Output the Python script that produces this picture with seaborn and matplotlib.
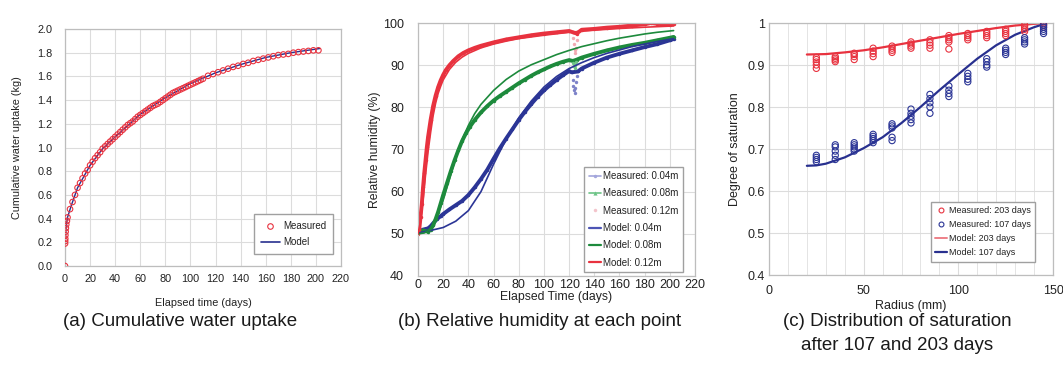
import matplotlib
matplotlib.use("Agg")
import matplotlib.pyplot as plt
from matplotlib.lines import Line2D
import seaborn as sns

# ---------------- (a) cumulative water uptake ----------------
uptake_days = [0, 0.05, 0.1, 0.2, 0.3, 0.5, 0.7, 1.0, 1.5,
               2, 4, 6, 8, 10, 12, 14, 16, 18, 20, 22, 24, 26, 28, 30,
               32, 34, 36, 38, 40, 42, 44, 46, 48, 50, 52, 54, 56, 58, 60,
               62, 64, 66, 68, 70, 72, 74, 76, 78, 80, 82, 84, 86, 88, 90,
               92, 94, 96, 98, 100, 102, 104, 106, 108, 110,
               114, 118, 122, 126, 130, 134, 138, 142, 146, 150, 154, 158,
               162, 166, 170, 174, 178, 182, 186, 190, 194, 198, 202]
uptake_kg = [0.00, 0.19, 0.21, 0.23, 0.26, 0.29, 0.32, 0.35, 0.38,
             0.41, 0.48, 0.54, 0.60, 0.66, 0.70, 0.74, 0.78, 0.81, 0.85, 0.88, 0.91, 0.935, 0.96, 0.99,
             1.01, 1.03, 1.05, 1.07, 1.09, 1.11, 1.13, 1.15, 1.17, 1.19, 1.205, 1.22, 1.24, 1.26, 1.275,
             1.29, 1.305, 1.32, 1.335, 1.35, 1.36, 1.37, 1.385, 1.40, 1.415, 1.43, 1.445, 1.46, 1.47, 1.48,
             1.49, 1.50, 1.51, 1.52, 1.53, 1.54, 1.55, 1.56, 1.57, 1.58,
             1.605, 1.62, 1.635, 1.65, 1.665, 1.68, 1.69, 1.705, 1.715, 1.73, 1.74, 1.75,
             1.76, 1.77, 1.78, 1.785, 1.79, 1.80, 1.805, 1.81, 1.815, 1.82, 1.82]
uptake_model_days = [0, 1, 2, 5, 10, 20, 30, 40, 60, 80, 100, 120, 140, 160, 180, 203]
uptake_model_kg = [0.18, 0.34, 0.41, 0.51, 0.66, 0.85, 0.99, 1.09, 1.28, 1.42,
                   1.54, 1.63, 1.70, 1.76, 1.80, 1.835]

# ---------------- (b) relative humidity ----------------
rh_blue_days = [0, 4, 8, 10, 12, 15, 18, 20, 25, 30, 35, 40, 45, 50, 55, 60, 65, 70, 75, 80,
                85, 90, 95, 100, 105, 110, 115, 120, 122, 127, 130, 140,
                150, 160, 170, 180, 190, 200, 203]
rh_blue = [50.5, 51.0, 51.3, 51.8, 52.5, 53.5, 54.2, 54.7, 55.8, 56.8, 57.8, 59.2, 61.0, 63.0,
           65.2, 67.8, 70.3, 72.6, 74.8, 77.0, 79.0, 80.8, 82.5, 84.0, 85.3, 86.5, 87.6, 88.6,
           88.3, 88.5, 89.2, 90.6, 91.8, 92.7, 93.5, 94.3, 95.0, 95.9, 96.2]
rh_green_days = [0, 4, 8, 10, 12, 14, 16, 18, 20, 23, 26, 29, 32, 35, 38, 41, 45, 50, 55, 60,
                 65, 70, 75, 80, 85, 90, 95, 100, 105, 110, 115, 120, 123, 126, 130,
                 140, 150, 160, 170, 180, 190, 200, 203]
rh_green = [50.5, 50.8, 50.5, 51.0, 52.0, 53.5, 55.2, 57.2, 59.2, 62.0, 64.8, 67.4, 69.8, 72.0,
            73.8, 75.3, 77.0, 78.8, 80.3, 81.6, 82.7, 83.7, 84.7, 85.7, 86.6, 87.5, 88.3, 89.0,
            89.7, 90.3, 90.8, 91.2, 91.0, 91.3, 91.8, 92.7, 93.5, 94.2, 94.8, 95.3,
            95.9, 96.5, 96.7]
rh_red_days = [0, 1, 2, 3, 4, 5, 6, 7, 8, 10, 12, 14, 16, 18, 20, 22, 25, 28, 32, 36, 40, 45,
               50, 55, 60, 70, 80, 90, 100, 110, 120, 123, 126, 130, 140, 150, 160,
               170, 180, 185, 190, 195, 200, 203]
rh_red = [50.0, 51.0, 54.0, 57.0, 61.0, 64.5, 67.5, 70.5, 73.0, 77.0, 80.3, 82.8, 84.8, 86.4,
          87.7, 88.8, 90.0, 91.0, 92.1, 92.9, 93.5, 94.1, 94.6, 95.0, 95.4, 96.1, 96.6, 97.1,
          97.5, 97.8, 98.1, 97.8, 97.5, 98.4, 98.6, 98.9, 99.1, 99.4, 99.7, 100.0,
          99.8, 99.7, 99.6, 99.7]

# sensor excursion around day 124-126
dip_blue_days = [123, 123.5, 124, 124.5, 125, 125.5, 126]
dip_blue = [86.5, 85.0, 84.0, 83.5, 84.5, 86.0, 87.5]
dip_green_days = [123.5, 124, 124.5, 125, 125.5]
dip_green = [90.5, 89.8, 89.3, 90.0, 90.8]
dip_red_days = [123.5, 124, 124.5, 125, 125.5, 126]
dip_red = [96.5, 95.0, 93.5, 92.8, 94.0, 96.0]

model_blue_days = [0, 10, 20, 30, 40, 50, 60, 70, 80, 90, 100, 110, 120, 130, 140, 150, 160,
                   170, 180, 190, 203]
model_blue = [50.2, 50.8, 51.5, 53.0, 55.5, 60.0, 66.5, 72.5, 77.5, 81.5, 84.8, 87.3, 89.2,
              90.6, 91.8, 92.8, 93.6, 94.4, 95.0, 95.6, 96.3]
model_green_days = [0, 5, 10, 15, 20, 25, 30, 35, 40, 45, 50, 60, 70, 80, 90, 100, 110, 120,
                    130, 140, 150, 160, 170, 180, 190, 203]
model_green = [50.0, 50.2, 51.0, 54.0, 58.0, 63.0, 68.0, 72.3, 75.7, 78.5, 80.7, 84.0, 86.6,
               88.6, 90.1, 91.3, 92.5, 93.5, 94.4, 95.1, 95.8, 96.4, 96.9, 97.4, 97.8, 98.2]
model_red_days = [0, 2, 4, 6, 8, 10, 12, 14, 16, 18, 20, 25, 30, 35, 40, 50, 60, 70, 80, 100,
                  120, 140, 160, 180, 203]
model_red = [50.0, 53.0, 58.0, 64.0, 69.5, 74.0, 78.0, 81.0, 83.3, 85.0, 86.5, 89.0, 90.7,
             91.9, 92.8, 94.1, 95.0, 95.7, 96.3, 97.1, 97.8, 98.3, 98.7, 99.0, 99.3]

# ---------------- (c) degree of saturation ----------------
sat203_radius = ([25] * 5 + [35] * 4 + [45] * 4 + [55] * 4 + [65] * 4 + [75] * 4 + [85] * 4
                 + [95] * 5 + [105] * 4 + [115] * 4 + [125] * 4 + [135] * 4 + [145] * 3)
sat203 = [0.892, 0.900, 0.907, 0.913, 0.918,
          0.908, 0.912, 0.916, 0.920,
          0.913, 0.920, 0.925, 0.928,
          0.920, 0.927, 0.933, 0.940,
          0.930, 0.935, 0.940, 0.945,
          0.940, 0.945, 0.950, 0.955,
          0.940, 0.947, 0.953, 0.960,
          0.938, 0.955, 0.960, 0.965, 0.970,
          0.960, 0.965, 0.970, 0.975,
          0.965, 0.970, 0.975, 0.980,
          0.970, 0.975, 0.980, 0.985,
          0.980, 0.985, 0.990, 0.995,
          0.990, 0.995, 1.000]
sat107_radius = ([25] * 4 + [35] * 5 + [45] * 5 + [55] * 5 + [65] * 5 + [75] * 5 + [85] * 5
                 + [95] * 4 + [105] * 4 + [115] * 4 + [125] * 4 + [135] * 4 + [145] * 5)
sat107 = [0.670, 0.675, 0.680, 0.685,
          0.675, 0.685, 0.695, 0.705, 0.710,
          0.695, 0.700, 0.705, 0.710, 0.715,
          0.715, 0.720, 0.725, 0.730, 0.735,
          0.720, 0.728, 0.750, 0.755, 0.760,
          0.762, 0.770, 0.778, 0.785, 0.795,
          0.785, 0.800, 0.810, 0.820, 0.830,
          0.825, 0.832, 0.840, 0.850,
          0.860, 0.866, 0.873, 0.880,
          0.895, 0.900, 0.908, 0.915,
          0.925, 0.930, 0.935, 0.940,
          0.950, 0.955, 0.960, 0.965,
          0.975, 0.980, 0.985, 0.990, 0.995]
sat_model_radius_203 = [20, 30, 40, 50, 60, 70, 80, 90, 100, 110, 120, 130, 140, 147]
sat_model_203 = [0.925, 0.926, 0.930, 0.935, 0.942, 0.950, 0.958, 0.966, 0.974, 0.981,
                 0.988, 0.994, 0.998, 1.000]
sat_model_radius_107 = [20, 25, 30, 40, 50, 60, 70, 80, 90, 100, 110, 120, 130, 140, 147]
sat_model_107 = [0.660, 0.661, 0.665, 0.680, 0.702, 0.728, 0.762, 0.800, 0.840, 0.878,
                 0.915, 0.947, 0.972, 0.990, 1.000]

captions = ["(a) Cumulative water uptake",
            "(b) Relative humidity at each point",
            "(c) Distribution of saturation\nafter 107 and 203 days"]

# ---------------- styling ----------------
sns.set_theme(style="whitegrid")
plt.rcParams["font.family"] = ["Liberation Sans", "DejaVu Sans"]
plt.rcParams["axes.edgecolor"] = "#bdbdbd"
plt.rcParams["grid.color"] = "#dcdcdc"
plt.rcParams["grid.linewidth"] = 0.8
plt.rcParams["text.color"] = "#222222"
plt.rcParams["axes.labelcolor"] = "#222222"
plt.rcParams["xtick.color"] = "#222222"
plt.rcParams["ytick.color"] = "#222222"

RED = "#e8323f"
BLUE = "#2b3596"
GREEN = "#1d8a3c"
NAVY = "#28308f"

fig = plt.figure(figsize=(10.63, 3.65), dpi=100)
W, H = 1063, 365


def add_axes(left, right, top, bottom):
    return fig.add_axes([left / W, (H - bottom) / H, (right - left) / W, (bottom - top) / H])


def frame(ax):
    for sp in ax.spines.values():
        sp.set_visible(True)
        sp.set_color("#bdbdbd")
        sp.set_linewidth(0.9)


# ---- panel (a)
ax1 = add_axes(65, 341, 29, 266)
sns.scatterplot(x=uptake_days, y=uptake_kg, ax=ax1, marker="o", s=16,
                facecolor="none", edgecolor=RED, linewidth=0.8, zorder=3)
sns.lineplot(x=uptake_model_days, y=uptake_model_kg, ax=ax1, color=NAVY, lw=1.0,
             estimator=None, sort=False, zorder=2)
ax1.set_xlim(0, 220)
ax1.set_ylim(0, 2.0)
ax1.set_xticks(range(0, 221, 20))
ax1.set_yticks([i / 5 for i in range(11)])
ax1.set_yticklabels([f"{i / 5:.1f}" for i in range(11)])
ax1.tick_params(axis="both", labelsize=7.8, length=0)
ax1.tick_params(axis="y", pad=9)
ax1.tick_params(axis="x", pad=6)
ax1.set_xlabel("Elapsed time (days)", fontsize=7.8)
ax1.set_ylabel("Cumulative water uptake (kg)", fontsize=7.8)
ax1.xaxis.set_label_coords(0.5, -0.135)
ax1.yaxis.set_label_coords(-0.155, 0.5)
frame(ax1)
h_a = [Line2D([], [], ls="none", marker="o", mfc="none", mec=RED, ms=4, mew=0.8),
       Line2D([], [], color=NAVY, lw=1.2)]
ax1.legend(h_a, ["Measured", "Model"], loc="lower right", bbox_to_anchor=(0.971, 0.05),
           borderaxespad=0, fontsize=7, frameon=True, fancybox=False, framealpha=1,
           edgecolor="#a0a0a0", handlelength=2.0, handletextpad=0.3, borderpad=0.7,
           labelspacing=0.65)

# ---- panel (b)
ax2 = add_axes(418, 695, 23, 276)
for d, v, c in [(rh_blue_days, rh_blue, BLUE), (rh_green_days, rh_green, GREEN),
                (rh_red_days, rh_red, RED)]:
    sns.lineplot(x=d, y=v, ax=ax2, color=c, lw=2.8, marker="o", markersize=2.5,
                 markeredgewidth=0, estimator=None, sort=False, zorder=2)
for d, v, c in [(dip_blue_days, dip_blue, "#7d82c8"), (dip_green_days, dip_green, "#6cc486"),
                (dip_red_days, dip_red, "#f2a9b1")]:
    sns.scatterplot(x=d, y=v, ax=ax2, color=c, s=6, linewidth=0, zorder=2)
for d, v, c in [(model_blue_days, model_blue, BLUE), (model_green_days, model_green, GREEN),
                (model_red_days, model_red, RED)]:
    sns.lineplot(x=d, y=v, ax=ax2, color=c, lw=1.2, estimator=None, sort=False, zorder=3)
ax2.set_xlim(0, 220)
ax2.set_ylim(40, 100)
ax2.set_xticks(range(0, 221, 20))
ax2.set_yticks(range(40, 101, 10))
ax2.tick_params(axis="both", labelsize=9, length=0)
ax2.tick_params(axis="y", pad=10)
ax2.tick_params(axis="x", pad=2)
ax2.set_xlabel("Elapsed Time (days)", fontsize=8.8)
ax2.set_ylabel("Relative humidity (%)", fontsize=8.8)
ax2.xaxis.set_label_coords(0.5, -0.058)
ax2.yaxis.set_label_coords(-0.135, 0.5)
frame(ax2)
h_b = [Line2D([], [], color="#a3a6dc", lw=1.2, marker="o", ms=2.5, mew=0),
       Line2D([], [], color="#6cc486", lw=1.2, marker="^", ms=3, mew=0),
       Line2D([], [], ls="none", color="#f3c4cb", marker="o", ms=2.5, mew=0),
       Line2D([], [], color="#4d55b5", lw=1.6),
       Line2D([], [], color=GREEN, lw=1.6),
       Line2D([], [], color=RED, lw=1.6)]
ax2.legend(h_b, ["Measured: 0.04m", "Measured: 0.08m", "Measured: 0.12m",
                 "Model: 0.04m", "Model: 0.08m", "Model: 0.12m"],
           loc="lower right", bbox_to_anchor=(0.957, 0.016), borderaxespad=0, fontsize=7,
           frameon=True, fancybox=False, framealpha=1, edgecolor="#a0a0a0",
           handlelength=1.3, handletextpad=0.2, borderpad=0.45, labelspacing=0.75)

# ---- panel (c)
ax3 = add_axes(769, 1053, 23, 275)
sns.scatterplot(x=sat203_radius, y=sat203, ax=ax3, marker="o", s=20,
                facecolor="none", edgecolor=RED, linewidth=0.8, zorder=3)
sns.scatterplot(x=sat107_radius, y=sat107, ax=ax3, marker="o", s=20,
                facecolor="none", edgecolor=BLUE, linewidth=0.8, zorder=3)
sns.lineplot(x=sat_model_radius_203, y=sat_model_203, ax=ax3, color=RED, lw=1.6,
             estimator=None, sort=False, zorder=2)
sns.lineplot(x=sat_model_radius_107, y=sat_model_107, ax=ax3, color=NAVY, lw=1.6,
             estimator=None, sort=False, zorder=2)
ax3.set_xlim(0, 150)
ax3.set_ylim(0.4, 1.0)
ax3.set_xticks([0, 50, 100, 150])
ax3.set_xticks(range(10, 150, 10), minor=True)
ax3.set_yticks([0.4, 0.5, 0.6, 0.7, 0.8, 0.9, 1.0])
ax3.set_yticklabels(["0.4", "0.5", "0.6", "0.7", "0.8", "0.9", "1"])
ax3.grid(True, which="minor", axis="x", color="#e4e4e4", lw=0.7)
ax3.tick_params(axis="both", which="both", labelsize=9, length=0)
ax3.tick_params(axis="y", pad=3)
ax3.tick_params(axis="x", pad=7)
ax3.set_xlabel("Radius (mm)", fontsize=9)
ax3.set_ylabel("Degree of saturation", fontsize=9)
ax3.xaxis.set_label_coords(0.5, -0.1)
ax3.yaxis.set_label_coords(-0.1, 0.5)
frame(ax3)
h_c = [Line2D([], [], ls="none", marker="o", mfc="none", mec=RED, ms=3.5, mew=0.8),
       Line2D([], [], ls="none", marker="o", mfc="none", mec=BLUE, ms=3.5, mew=0.8),
       Line2D([], [], color="#ee8088", lw=1.4),
       Line2D([], [], color=NAVY, lw=1.6)]
ax3.legend(h_c, ["Measured: 203 days", "Measured: 107 days", "Model: 203 days", "Model: 107 days"],
           loc="lower right", bbox_to_anchor=(0.937, 0.052), borderaxespad=0, fontsize=6.5,
           frameon=True, fancybox=False, framealpha=1, edgecolor="#a0a0a0",
           handlelength=1.3, handletextpad=0.2, borderpad=0.5, labelspacing=0.55)

# ---- captions
for x_px, txt in zip([180, 540, 897], captions):
    fig.text(x_px / W, 1 - 313 / H, txt, ha="center", va="top", fontsize=13.5,
             linespacing=1.5, color="#1a1a1a")

fig.savefig("out.png", dpi=100)
